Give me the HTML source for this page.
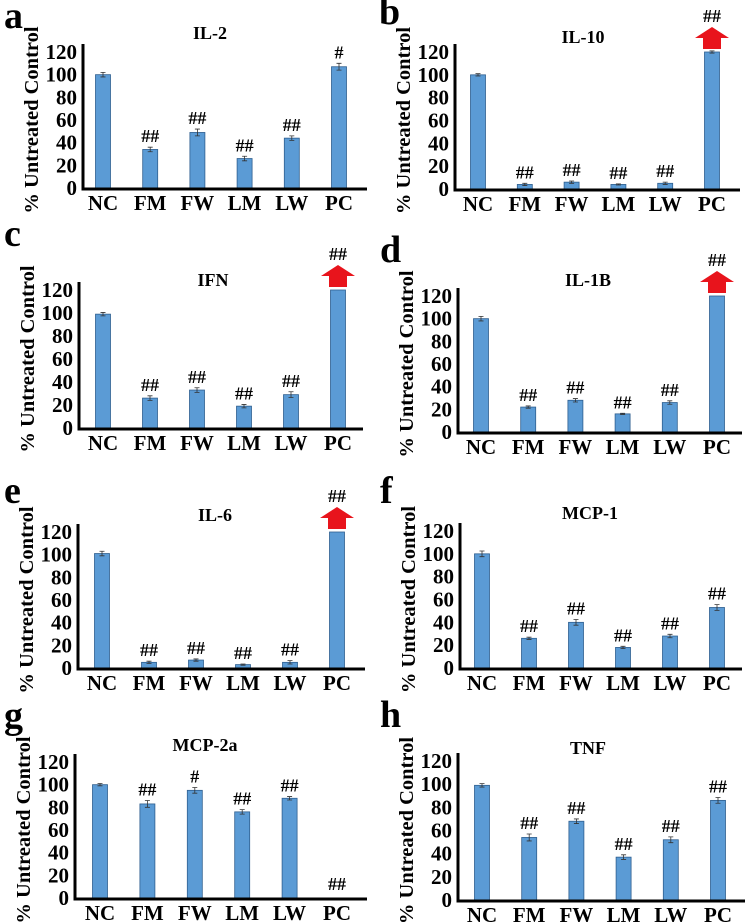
<!DOCTYPE html>
<html><head><meta charset="utf-8">
<style>
html,body{margin:0;padding:0;background:#fff;}
svg{display:block;}
svg text{font-family:"Liberation Serif","Times New Roman",serif;font-weight:bold;}
</style></head>
<body>
<svg id="fig" width="749" height="922" viewBox="0 0 749 922" xmlns="http://www.w3.org/2000/svg"></svg>
<script>
const categories = ['NC','FM','FW','LM','LW','PC'];
const panelLetters = ['a','b','c','d','e','f','g','h'];
const panelTitles = ['IL-2','IL-10','IFN','IL-1B','IL-6','MCP-1','MCP-2a','TNF'];
const yTicks = [0,20,40,60,80,100,120];
const valuesA = [100,34,49,26,44,107];
const valuesB = [100,4,6,4,5,120];
const valuesC = [99,26,33,19,29,120];
const valuesD = [100,22,28,16,26,120];
const valuesE = [101,5,7,3,5,120];
const valuesF = [100,26,40,18,28,53];
const valuesG = [100,83,95,76,88,0];
const valuesH = [99,54,68,37,52,86];
const errorsA = [2,2,3,2,2,3];
const errorsB = [1,1,1,0.5,1,1];
const errorsC = [1.5,2,2,1.5,2.5,0];
const errorsD = [2,1,1.5,0.5,1.5,0];
const errorsE = [2,1,1,0.5,1.5,0];
const errorsF = [2.5,1,2.5,1,1.5,2.5];
const errorsG = [1,3,2.5,2,1.5,0];
const errorsH = [1.5,3,2,2,2.5,2.5];
const marksA = ['','##','##','##','##','#'];
const marksB = ['','##','##','##','##','##'];
const marksC = ['','##','##','##','##','##'];
const marksD = ['','##','##','##','##','##'];
const marksE = ['','##','##','##','##','##'];
const marksF = ['','##','##','##','##','##'];
const marksG = ['','##','#','##','##','##'];
const marksH = ['','##','##','##','##','##'];
const arrowFlags = [false,true,true,true,true,false,false,false];

const allValues=[valuesA,valuesB,valuesC,valuesD,valuesE,valuesF,valuesG,valuesH];
const allErrors=[errorsA,errorsB,errorsC,errorsD,errorsE,errorsF,errorsG,errorsH];
const allMarks=[marksA,marksB,marksC,marksD,marksE,marksF,marksG,marksH];
// layout: axisX, y0 (value 0), y120, firstBarX, lastBarX, xEnd, titleX, titleY, letterX, letterY
const layout=[
 [83,188,52,103,339,367,210,39,4,28],
 [455,189,52,478,712,740,583,43,379,24],
 [79,428,290,103,338,363,213,286,4,246],
 [458,432,296,481,717,742,588,286,380,262],
 [78,668,532,102,337,365,215,521,4,503],
 [460,668,531,482,717,742,590,519,380,503],
 [75,898,762,100,337,367,205,751,4,728],
 [458,900,761,482,718,745,588,754,380,727]
];
const NS='http://www.w3.org/2000/svg';
const FONT='"Liberation Serif","Times New Roman",serif';
const svg=document.getElementById('fig');
function mk(tag,attrs,parent,text){const e=document.createElementNS(NS,tag);for(const k in attrs)e.setAttribute(k,attrs[k]);if(tag==='text'){e.setAttribute('font-family',FONT);if(!attrs['font-weight'])e.setAttribute('font-weight','bold');}if(text!==undefined)e.textContent=text;(parent||svg).appendChild(e);return e;}

for(let p=0;p<8;p++){
 const [ax,y0,y120,fx,lx,xe,tx,ty,lX,lY]=layout[p];
 const vals=allValues[p],errs=allErrors[p],marks=allMarks[p];
 const yScale=v=>y0-(v/120)*(y0-y120);
 const step=(lx-fx)/(categories.length-1);
 const xScale=i=>fx+i*step;
 const g=mk('g',{});
 
 
 const L=mk('text',{x:lX,y:lY,'font-size':38,fill:'#000'},g,panelLetters[p]);
 
 
 const T=mk('text',{x:tx,y:ty,'font-size':18,'text-anchor':'middle',fill:'#000'},g,panelTitles[p]);
 
 
 const yt=mk('text',{x:0,y:0,'font-size':20.5,'text-anchor':'middle',fill:'#000',transform:`translate(${ax-45},${(y0+y120)/2}) rotate(-90)`},g,'% Untreated Control');
 
 
 yTicks.forEach(t=>{
  const e=mk('text',{x:ax-6,y:yScale(t)+7,'font-size':21,'text-anchor':'end',fill:'#000'},g,String(t));
  
  
 });
 vals.forEach((v,i)=>{
  const cx=xScale(i),bw=15;
  const top=yScale(Math.min(v,120));
  if(v>0){
   const b=mk('rect',{x:cx-bw/2,y:top,width:bw,height:y0-top,fill:'#5b9bd5',stroke:'#2f5f8f','stroke-width':0.8},g);
   
   
  }
  const er=errs[i];
  if(er>0){
   const e1=yScale(v+er),e2=yScale(v-er);
   const eb=mk('path',{d:`M${cx},${e1}V${e2}M${cx-2.5},${e1}H${cx+2.5}M${cx-2.5},${e2}H${cx+2.5}`,stroke:'#333','stroke-width':0.8,fill:'none'},g);
   
   
  }
  let markY=yScale(v+er)-5;
  if(arrowFlags[p]&&i===5){
   const aTop=top-25,aBot=top-3,mid=aTop+11;
   const ar=mk('path',{d:`M${cx},${aTop}L${cx+17},${mid}H${cx+9}V${aBot}H${cx-9}V${mid}H${cx-17}Z`,fill:'#e8141c'},g);
   
   
   markY=aTop-5;
  }
  if(v===0) markY=y0-8;
  if(marks[i]){
   const m=mk('text',{x:cx,y:markY,'font-size':18,'font-weight':'normal','text-anchor':'middle',fill:'#000'},g,marks[i]);
   
   
  }
  const c=mk('text',{x:cx,y:y0+22,'font-size':21,'text-anchor':'middle',fill:'#000'},g,categories[i]);
  
  
 });
 const ya=mk('line',{x1:ax,y1:y120-8,x2:ax,y2:y0+2,stroke:'#000','stroke-width':3},g);
 
 
 const xa=mk('line',{x1:ax-1.5,y1:y0+1,x2:xe,y2:y0+1,stroke:'#000','stroke-width':3},g);
 
 
}
</script>
</body></html>
